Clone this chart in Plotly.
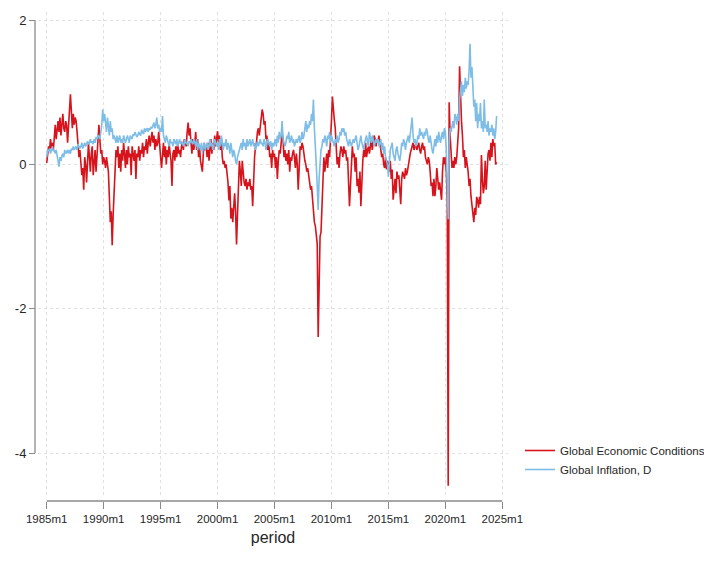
import plotly.graph_objects as go

# Global Economic Conditions (monthly, 1985m1 .. 2024m7)
gec = [
    0.02, 0.15, 0.25, 0.2, 0.35, 0.22, 0.3, 0.2, 0.4, 0.55, 0.35, 0.5,          # 1985
    0.6, 0.45, 0.65, 0.4, 0.55, 0.7, 0.5, 0.45, 0.6, 0.55, 0.3, 0.65,           # 1986
    0.75, 0.97, 0.6, 0.5, 0.7, 0.55, 0.65, 0.6, 0.45, 0.3, 0.1, 0.2,            # 1987
    0.05, -0.15, -0.05, -0.35, 0.1, 0.0, -0.25, 0.05, 0.3, 0.1, -0.1, 0.15,     # 1988
    0.25, -0.15, 0.05, 0.2, -0.1, 0.1, 0.3, 0.55, 0.35, 0.15, 0.2, 0.0,         # 1989
    0.1, 0.05, -0.05, 0.1, 0.0, -0.1, -0.45, -0.8, -0.65, -1.12, -0.7, -0.4,    # 1990
    -0.1, 0.2, 0.1, 0.25, -0.05, 0.15, -0.1, 0.2, 0.05, 0.3, 0.15, -0.05,      # 1991
    0.2, 0.0, 0.25, 0.1, 0.15, -0.15, 0.25, 0.1, 0.05, 0.2, -0.2, 0.15,         # 1992
    0.1, 0.25, 0.05, 0.2, 0.15, 0.3, 0.1, 0.25, 0.2, 0.35, 0.15, 0.3,           # 1993
    0.4, 0.25, 0.35, 0.45, 0.3, 0.4, 0.2, 0.35, 0.25, 0.3, 0.45, 0.2,           # 1994
    0.1, -0.05, 0.15, 0.3, 0.1, 0.25, 0.0, 0.2, 0.1, 0.3, 0.15, 0.05,           # 1995
    -0.3, 0.15, 0.2, 0.05, 0.25, 0.1, 0.3, 0.15, 0.2, 0.1, 0.25, 0.3,           # 1996
    0.2, 0.35, 0.3, 0.25, 0.45, 0.58, 0.4, 0.5, 0.3, 0.15, 0.35, 0.2,           # 1997
    0.3, 0.45, 0.2, 0.35, 0.1, 0.25, 0.05, -0.05, -0.1, 0.15, 0.3, 0.2,         # 1998
    0.25, 0.1, 0.3, 0.05, 0.2, 0.35, 0.15, 0.3, 0.2, 0.4, 0.25, 0.35,           # 1999
    0.46, 0.3, 0.4, 0.2, 0.35, 0.1, 0.0, 0.05, -0.05, 0.0, -0.1, -0.25,         # 2000
    -0.5, -0.3, -0.75, -0.6, -0.8, -0.5, -0.4, -0.65, -1.11, -0.7, -0.3, 0.05,  # 2001
    -0.1, -0.3, 0.05, -0.15, -0.25, -0.3, -0.2, -0.35, -0.25, -0.3, -0.2, -0.35,  # 2002
    -0.3, -0.58, -0.2, 0.1, 0.25, 0.3, 0.45, 0.5, 0.4, 0.55, 0.6, 0.76,         # 2003
    0.7, 0.55, 0.6, 0.35, 0.4, 0.2, 0.3, 0.1, 0.15, -0.05, 0.2, 0.1,            # 2004
    0.15, -0.05, 0.1, -0.2, 0.05, 0.2, 0.15, 0.3, 0.44, 0.35, 0.1, 0.2,         # 2005
    0.05, 0.15, 0.0, 0.2, -0.1, 0.1, 0.05, 0.15, 0.2, 0.1, -0.05, 0.15,         # 2006
    0.0, -0.35, 0.1, 0.25, 0.2, 0.3, 0.25, 0.1, 0.05, 0.0, -0.1, -0.05,         # 2007
    -0.15, -0.25, -0.35, -0.3, -0.5, -0.72, -0.8, -0.85, -1.0, -1.1, -2.39, -1.5,  # 2008
    -1.0, -0.94, -0.5, -0.2, 0.1, -0.1, 0.05, 0.15, -0.05, 0.2, 0.1, 0.3,       # 2009
    0.6, 0.94, 0.7, 0.62, 0.5, 0.2, 0.0, 0.1, -0.05, 0.15, 0.25, 0.2,           # 2010
    0.1, 0.25, 0.15, 0.2, 0.05, 0.1, -0.2, -0.58, -0.3, 0.0, 0.25, 0.1,         # 2011
    0.15, -0.1, 0.1, -0.3, -0.2, -0.39, -0.1, -0.58, -0.2, 0.05, 0.2, 0.1,      # 2012
    0.3, 0.1, 0.2, 0.25, 0.15, 0.3, 0.35, 0.2, 0.3, 0.4, 0.35, 0.25,            # 2013
    0.35, 0.3, 0.4, 0.25, 0.2, 0.1, 0.15, 0.0, -0.05, 0.1, -0.07, 0.05,         # 2014
    0.0, -0.1, 0.05, -0.2, -0.07, -0.49, -0.3, -0.2, -0.4, -0.1, -0.2, -0.15,   # 2015
    -0.35, -0.55, -0.2, -0.1, -0.15, -0.2, -0.05, -0.15, -0.1, 0.0, 0.1, 0.15,  # 2016
    0.2, 0.25, 0.3, 0.2, 0.25, 0.3, 0.2, 0.25, 0.3, 0.2, 0.15, 0.25,            # 2017
    0.3, 0.2, 0.25, 0.1, 0.05, 0.0, 0.1, 0.05, -0.1, -0.3, -0.25, -0.44,        # 2018
    -0.2, -0.44, -0.3, -0.05, -0.2, -0.35, -0.25, -0.4, -0.49, -0.1, 0.1, 0.0,  # 2019
    0.1, -0.1, -0.5, -4.45, 0.86, 0.4, 0.1, -0.05, 0.05, -0.05, 0.1, 0.0,       # 2020
    0.1, 0.3, 0.5, 1.36, 0.8, 0.6, 0.4, 0.1, 0.2, -0.05, 0.1, 0.0,              # 2021
    -0.1, -0.3, -0.2, -0.44, -0.6, -0.72, -0.8, -0.6, -0.7, -0.45, -0.5, -0.6,  # 2022
    -0.45, -0.55, 0.13, -0.2, -0.4, -0.3, 0.05, -0.35, -0.1, 0.15, 0.2, 0.05,   # 2023
    0.3, 0.1, 0.35, 0.25, 0.3, 0.0, 0.03,                                       # 2024
]

# Global Inflation, D (monthly, 1985m1 .. 2024m7)
infl = [
    0.1, 0.2, 0.18, 0.22, 0.15, 0.2, 0.25, 0.18, 0.2, 0.15, 0.2, 0.12,          # 1985
    0.05, -0.03, 0.1, 0.05, 0.12, 0.15, 0.1, 0.2, 0.15, 0.18, 0.2, 0.15,        # 1986
    0.2, 0.15, 0.22, 0.2, 0.25, 0.2, 0.22, 0.25, 0.2, 0.28, 0.25, 0.22,         # 1987
    0.25, 0.3, 0.22, 0.28, 0.3, 0.25, 0.3, 0.32, 0.28, 0.3, 0.35, 0.3,          # 1988
    0.32, 0.28, 0.35, 0.3, 0.38, 0.35, 0.4, 0.39, 0.35, 0.45, 0.55, 0.76,       # 1989
    0.6, 0.7, 0.5, 0.45, 0.65, 0.55, 0.4, 0.6, 0.45, 0.5, 0.35, 0.4,            # 1990
    0.35, 0.3, 0.4, 0.3, 0.35, 0.4, 0.3, 0.35, 0.3, 0.4, 0.35, 0.3,             # 1991
    0.35, 0.4, 0.35, 0.3, 0.4, 0.38, 0.35, 0.42, 0.4, 0.45, 0.4, 0.38,          # 1992
    0.4, 0.45, 0.42, 0.4, 0.48, 0.45, 0.42, 0.5, 0.45, 0.48, 0.5, 0.45,         # 1993
    0.5, 0.48, 0.52, 0.5, 0.55, 0.58, 0.5, 0.55, 0.65, 0.5, 0.55, 0.45,         # 1994
    0.5, 0.45, 0.67, 0.4, 0.35, 0.3, 0.4, 0.35, 0.3, 0.25, 0.35, 0.3,           # 1995
    0.3, 0.25, 0.35, 0.3, 0.28, 0.35, 0.25, 0.3, 0.35, 0.28, 0.32, 0.3,         # 1996
    0.25, 0.3, 0.35, 0.28, 0.3, 0.25, 0.32, 0.3, 0.35, 0.3, 0.28, 0.35,         # 1997
    0.3, 0.25, 0.35, 0.2, 0.3, 0.25, 0.2, 0.3, 0.15, 0.25, 0.3, 0.2,            # 1998
    0.25, 0.3, 0.2, 0.28, 0.35, 0.25, 0.3, 0.2, 0.25, 0.35, 0.3, 0.25,          # 1999
    0.3, 0.2, 0.35, 0.25, 0.4, 0.3, 0.2, 0.3, 0.25, 0.35, 0.2, 0.3,             # 2000
    0.25, 0.15, 0.3, 0.2, 0.1, 0.2, 0.15, 0.05, 0.0, 0.1, 0.15, 0.2,            # 2001
    0.25, 0.3, 0.2, 0.35, 0.25, 0.3, 0.2, 0.35, 0.25, 0.3, 0.35, 0.25,          # 2002
    0.3, 0.35, 0.25, 0.3, 0.2, 0.28, 0.32, 0.25, 0.3, 0.35, 0.28, 0.3,          # 2003
    0.25, 0.35, 0.3, 0.2, 0.28, 0.35, 0.3, 0.25, 0.32, 0.2, 0.3, 0.25,          # 2004
    0.3, 0.35, 0.25, 0.4, 0.3, 0.45, 0.35, 0.4, 0.6, 0.35, 0.3, 0.25,           # 2005
    0.3, 0.4, 0.35, 0.45, 0.3, 0.35, 0.4, 0.3, 0.35, 0.25, 0.3, 0.35,           # 2006
    0.3, 0.35, 0.4, 0.3, 0.35, 0.45, 0.35, 0.4, 0.5, 0.6, 0.45, 0.55,           # 2007
    0.5, 0.6, 0.55, 0.7, 0.6, 0.9, 0.5, 0.3, 0.0, -0.3, -0.63, -0.2,            # 2008
    0.05, 0.2, 0.25, 0.35, 0.3, 0.4, 0.35, 0.25, 0.4, 0.35, 0.45, 0.3,          # 2009
    0.4, 0.35, 0.3, 0.25, 0.35, 0.3, 0.4, 0.3, 0.35, 0.45, 0.4, 0.5,            # 2010
    0.45, 0.5, 0.4, 0.45, 0.35, 0.3, 0.25, 0.35, 0.3, 0.25, 0.3, 0.35,          # 2011
    0.3, 0.35, 0.4, 0.3, 0.2, 0.25, 0.35, 0.4, 0.3, 0.25, 0.2, 0.3,             # 2012
    0.35, 0.4, 0.3, 0.25, 0.45, 0.35, 0.3, 0.4, 0.35, 0.25, 0.3, 0.35,          # 2013
    0.3, 0.35, 0.25, 0.3, 0.35, 0.2, 0.3, 0.15, 0.25, 0.1, 0.05, 0.0,           # 2014
    -0.17, 0.1, 0.2, 0.25, 0.3, 0.15, 0.1, 0.05, 0.2, 0.25, 0.15, 0.1,          # 2015
    0.05, 0.15, 0.3, 0.25, 0.35, 0.3, 0.2, 0.3, 0.35, 0.4, 0.3, 0.45,           # 2016
    0.5, 0.65, 0.4, 0.3, 0.35, 0.25, 0.3, 0.4, 0.35, 0.5, 0.4, 0.45,            # 2017
    0.4, 0.35, 0.45, 0.4, 0.5, 0.45, 0.35, 0.3, 0.4, 0.25, 0.2, 0.15,           # 2018
    0.3, 0.35, 0.25, 0.4, 0.3, 0.45, 0.35, 0.3, 0.4, 0.45, 0.35, 0.5,           # 2019
    0.45, 0.2, -0.3, -0.76, 0.3, 0.5, 0.45, 0.55, 0.6, 0.5, 0.7, 0.65,          # 2020
    0.55, 0.7, 0.6, 0.9, 1.0, 1.15, 0.95, 1.1, 1.0, 1.2, 1.05, 1.15,            # 2021
    1.1, 1.3, 1.67, 1.2, 1.35, 1.0, 0.8, 0.9, 0.6, 0.85, 0.5, 0.7,              # 2022
    0.6, 0.85, 0.5, 0.6, 0.45, 0.9, 0.5, 0.55, 0.45, 0.6, 0.4, 0.5,             # 2023
    0.45, 0.55, 0.4, 0.5, 0.35, 0.45, 0.67,                                     # 2024
]

assert len(gec) == len(infl)
start_year = 1985
period = [start_year + i / 12 for i in range(len(gec))]

tick_years = [1985, 1990, 1995, 2000, 2005, 2010, 2015, 2020, 2025]
tick_text = [f"{y}m1" for y in tick_years]
y_ticks = [2, 0, -2, -4]

# page body has an 8px margin, so the figure is sized to fit inside the window
W, H = 704, 549
L, R, T, B = 27, 204, 4, 56
pw = W - L - R
ph = H - T - B

FONT = "Liberation Sans, Arial, sans-serif"
TXT = "#262626"
AXIS_GRAY = "#8a8a8a"
GRID = "#e0e0e0"

fig = go.Figure()
fig.add_trace(go.Scatter(x=period, y=gec, mode="lines", name="Global Economic Conditions",
                         line=dict(color="#d7141c", width=1.6)))
fig.add_trace(go.Scatter(x=period, y=infl, mode="lines", name="Global Inflation, D",
                         line=dict(color="#7dbde6", width=1.6)))

fig.update_layout(
    width=W, height=H,
    margin=dict(l=L, r=R, t=T, b=B, pad=0, autoexpand=False),
    plot_bgcolor="white", paper_bgcolor="white",
    font=dict(family=FONT, color=TXT),
    showlegend=True,
    legend=dict(xref="container", yref="container",
                x=512 / W, y=(H - 428) / H, xanchor="left", yanchor="top",
                font=dict(size=11.5, family=FONT, color=TXT),
                bgcolor="rgba(0,0,0,0)", tracegroupgap=0),
    xaxis=dict(
        domain=[3 / pw, 1], range=[1984.236, 2025.5],
        anchor="free", position=0,
        tickmode="array", tickvals=tick_years, ticktext=tick_text,
        ticks="outside", ticklen=7, tickcolor=AXIS_GRAY, tickwidth=1.2,
        tickfont=dict(size=11.5, family=FONT, color=TXT),
        showline=False, zeroline=False,
        showgrid=True, gridcolor=GRID, griddash="dot", gridwidth=1,
        title=dict(text="period", font=dict(size=16, family=FONT, color=TXT), standoff=8),
    ),
    yaxis=dict(
        domain=[6 / ph, 1], range=[-4.579, 2.111],
        anchor="free", position=0,
        tickmode="array", tickvals=y_ticks, ticktext=[str(v) for v in y_ticks],
        ticks="outside", ticklen=6, tickcolor=AXIS_GRAY, tickwidth=1.2,
        tickfont=dict(size=13, family=FONT, color=TXT),
        showline=False, zeroline=False,
        showgrid=True, gridcolor=GRID, griddash="dot", gridwidth=1,
    ),
    shapes=[
        dict(type="line", xref="paper", yref="y", x0=0, x1=0, y0=y_ticks[-1], y1=y_ticks[0],
             line=dict(color=AXIS_GRAY, width=1.3)),
        dict(type="line", xref="x", yref="paper", x0=tick_years[0], x1=tick_years[-1], y0=0, y1=0,
             line=dict(color=AXIS_GRAY, width=1.3)),
    ],
)

fig.write_html("out.html")
